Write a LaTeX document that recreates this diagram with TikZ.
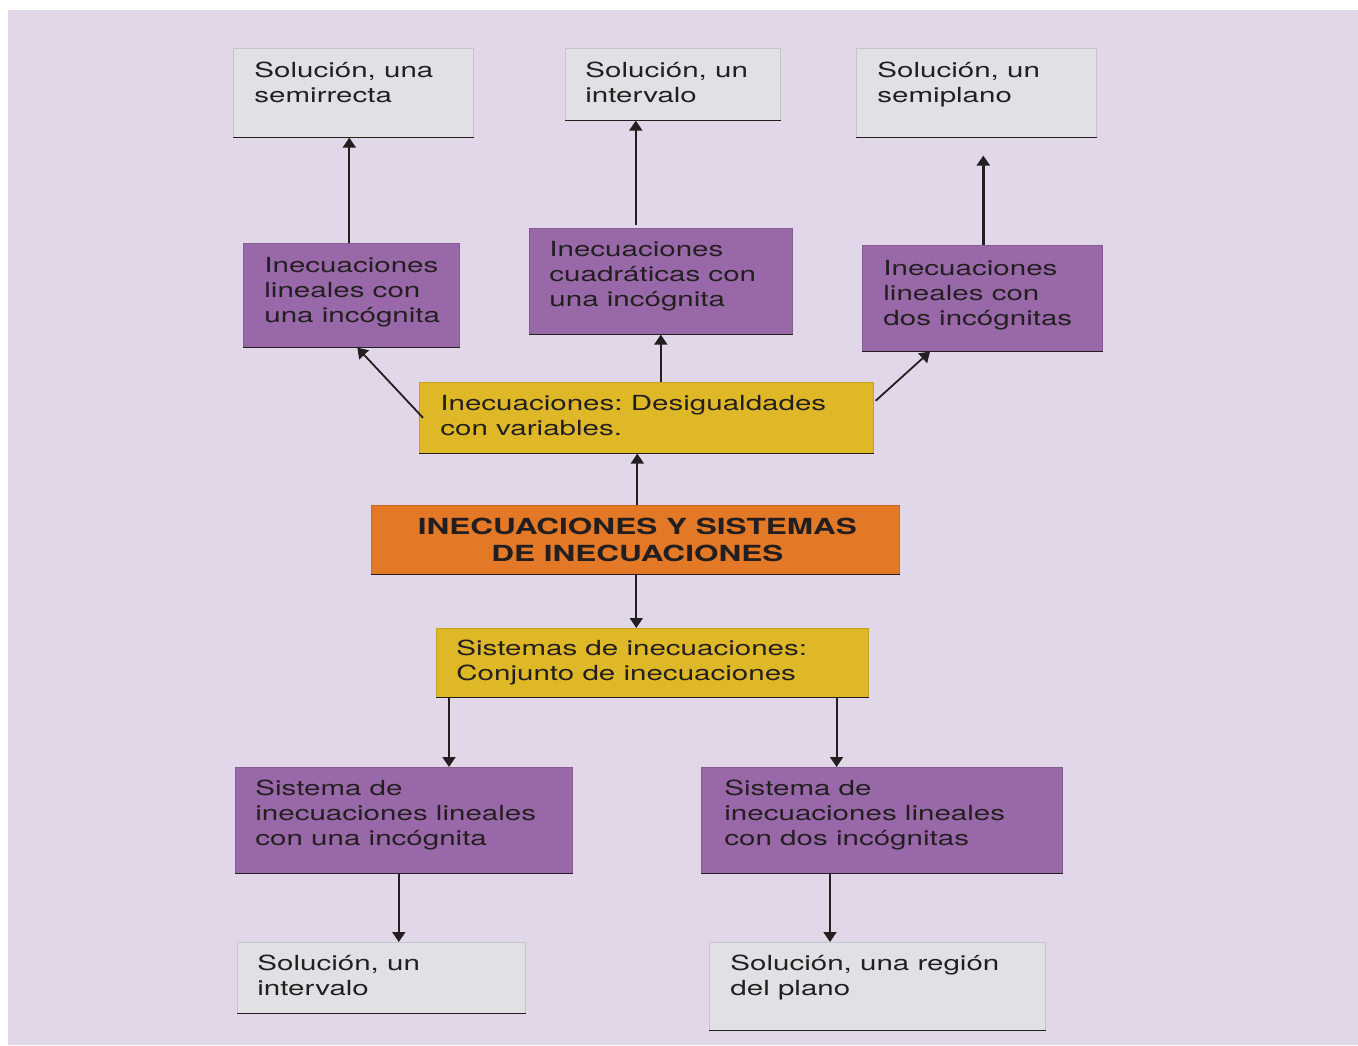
\documentclass[tikz,border=0pt]{standalone}
\usepackage{fontspec}
\setmainfont[FakeStretch=1.42]{TeX Gyre Heros}
\frenchspacing
\usetikzlibrary{calc,arrows.meta}
\definecolor{fondo}{RGB}{226,215,232}
\definecolor{gris}{RGB}{225,225,229}
\definecolor{morado}{RGB}{153,104,168}
\definecolor{amarillo}{RGB}{222,184,38}
\definecolor{naranja}{RGB}{227,120,38}
\definecolor{tinta}{RGB}{35,31,32}
\tikzset{
  caja/.style={anchor=north west, inner sep=0pt, fill=#1, draw=#1!88!black, line width=0.3pt},
  tam/.style 2 args={minimum width=#1*0.5pt, minimum height=#2*0.5pt},
  txt/.style={anchor=north west, inner sep=0pt, align=left, text=tinta,
    font=\fontsize{10.4}{12.5}\selectfont},
  titulo/.style={align=center, inner sep=0pt, text=tinta,
    font=\fontsize{11.1}{13.5}\selectfont\bfseries},
  borde/.style={draw=tinta, line width=0.8pt},
  flecha/.style={draw=tinta, line width=0.9pt, -{Triangle[width=6.5pt,length=5pt]}}
}
\begin{document}
\begin{tikzpicture}[x=0.5pt,y=-0.5pt]
\useasboundingbox (0,0) rectangle (1358,1045);
\fill[white] (0,0) rectangle (1358,1045);
\fill[fondo] (8,10) rectangle (1358,1045);
% soluciones arriba
\node[caja=gris, tam={240}{89}] (s1) at (233,48) {};
\node[caja=gris, tam={215}{72}] (s2) at (565,48) {};
\node[caja=gris, tam={240}{89}] (s3) at (856,48) {};
\node[txt] (s1t) at ($(s1.north west)+(21,14)$) {Solución, una\\semirrecta};
\node[txt] (s2t) at ($(s2.north west)+(20,14)$) {Solución, un\\intervalo};
\node[txt] (s3t) at ($(s3.north west)+(21,14)$) {Solución, un\\semiplano};
% tipos de inecuaciones
\node[caja=morado, tam={216}{104}] (lu) at (243,243) {};
\node[caja=morado, tam={263}{106}] (cu) at (529,228) {};
\node[caja=morado, tam={240}{106}] (ld) at (862,245) {};
\node[txt] (lut) at ($(lu.north west)+(21,14)$) {Inecuaciones\\lineales con\\una incógnita};
\node[txt] (cut) at ($(cu.north west)+(20,13)$) {Inecuaciones\\cuadráticas con\\una incógnita};
\node[txt] (ldt) at ($(ld.north west)+(21,15)$) {Inecuaciones\\lineales con\\dos incógnitas};
% centro
\node[caja=amarillo, tam={454}{71}] (y1) at (419,382) {};
\node[txt] (y1t) at ($(y1.north west)+(21,13)$) {Inecuaciones: Desigualdades\\con variables.};
\node[caja=naranja, tam={528}{69}] (tit) at (371,505) {};
\node[titulo] (titt) at ($(tit.center)+(2,0)$) {INECUACIONES Y SISTEMAS\\DE INECUACIONES};
\node[caja=amarillo, tam={432}{69}] (y2) at (436,628) {};
\node[txt] (y2t) at ($(y2.north west)+(20,12)$) {Sistemas de inecuaciones:\\Conjunto de inecuaciones};
% sistemas
\node[caja=morado, tam={337}{106}] (su) at (235,767) {};
\node[caja=morado, tam={361}{106}] (sd) at (701,767) {};
\node[txt] (sut) at ($(su.north west)+(20,13)$) {Sistema de\\inecuaciones lineales\\con una incógnita};
\node[txt] (sdt) at ($(sd.north west)+(23,13)$) {Sistema de\\inecuaciones lineales\\con dos incógnitas};
\node[caja=gris, tam={288}{71}] (b1) at (237,942) {};
\node[caja=gris, tam={336}{88}] (b2) at (709,942) {};
\node[txt] (b1t) at ($(b1.north west)+(20,13)$) {Solución, un\\intervalo};
\node[txt] (b2t) at ($(b2.north west)+(21,13)$) {Solución, una región\\del plano};
% linea inferior de cada caja
\foreach \n in {s1,s2,s3,lu,cu,ld,y1,tit,y2,su,sd,b1,b2}
  \draw[borde] (\n.south west) -- (\n.south east);
% puntos de salida de las flechas
\coordinate (p1) at ($(lu.north)+(-2,0)$);
\coordinate (p2) at ($(cu.north)+(-25,-3)$);
\coordinate (p3) at ($(ld.north)+(1,0)$);
\coordinate (p4) at ($(tit.north)+(2,0)$);
\coordinate (p5) at ($(tit.south)+(1,0)$);
\coordinate (p6) at ($(y2.south west)+(13,0)$);
\coordinate (p7) at ($(y2.south east)+(-32,0)$);
\coordinate (p8) at ($(su.south)+(-5,0)$);
\coordinate (p9) at ($(sd.south west)+(129,0)$);
% flechas
\draw[flecha] (p1) -- (p1 |- s1.south);
\draw[flecha] (p2) -- (p2 |- s2.south);
\draw[flecha, line width=1.5pt, shorten >=9pt] (p3) -- (p3 |- s3.south);
\draw[flecha] ($(y1.west)+(4,0)$) -- ($(lu.south)+(6,0)$);
\draw[flecha] (cu.south |- y1.north) -- (cu.south);
\draw[flecha] ($(y1.east)+(2,-17)$) -- ($(ld.south west)+(68,0)$);
\draw[flecha] (p4) -- (p4 |- y1.south);
\draw[flecha] (p5) -- (p5 |- y2.north);
\draw[flecha] (p6) -- (p6 |- su.north);
\draw[flecha] (p7) -- (p7 |- sd.north);
\draw[flecha] (p8) -- (p8 |- b1.north);
\draw[flecha] (p9) -- (p9 |- b2.north);
\end{tikzpicture}
\end{document}
